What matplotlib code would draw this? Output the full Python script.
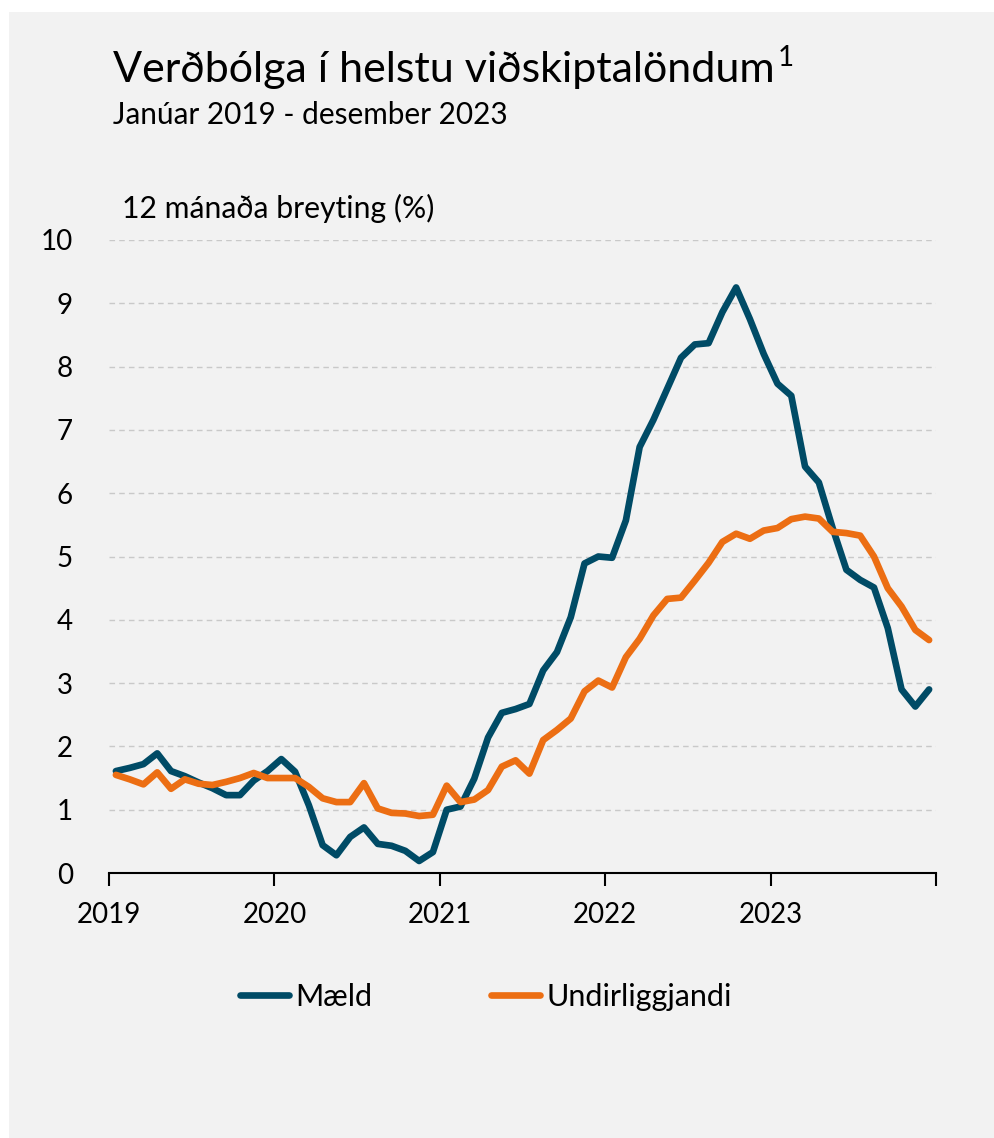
import matplotlib
matplotlib.use("Agg")
import matplotlib.pyplot as plt
from matplotlib.patches import Rectangle
from matplotlib.lines import Line2D
import numpy as np

plt.rcParams['font.family'] = ['Lato', 'DejaVu Sans']

# Monthly data Jan 2019 - Dec 2023
maeld = [1.61, 1.66, 1.72, 1.89, 1.61, 1.53, 1.43, 1.34, 1.23, 1.23, 1.46, 1.61,
         1.80, 1.60, 1.07, 0.44, 0.28, 0.57, 0.72, 0.46, 0.43, 0.35, 0.19, 0.33,
         1.00, 1.05, 1.49, 2.14, 2.53, 2.59, 2.67, 3.20, 3.49, 4.04, 4.89, 5.00,
         4.98, 5.57, 6.73, 7.16, 7.65, 8.14, 8.35, 8.37, 8.86, 9.25, 8.75, 8.20,
         7.73, 7.54, 6.42, 6.17, 5.45, 4.79, 4.63, 4.51, 3.87, 2.90, 2.63, 2.90]
undirliggjandi = [1.55, 1.48, 1.40, 1.59, 1.33, 1.48, 1.41, 1.39, 1.44, 1.50, 1.58, 1.50,
                  1.50, 1.50, 1.36, 1.18, 1.12, 1.12, 1.42, 1.02, 0.95, 0.94, 0.90, 0.92,
                  1.38, 1.12, 1.16, 1.31, 1.68, 1.78, 1.57, 2.10, 2.26, 2.44, 2.87, 3.04,
                  2.93, 3.41, 3.70, 4.07, 4.33, 4.35, 4.62, 4.90, 5.23, 5.36, 5.28, 5.41,
                  5.45, 5.59, 5.63, 5.60, 5.39, 5.37, 5.33, 5.00, 4.50, 4.21, 3.84, 3.68]
year_labels = ['2019', '2020', '2021', '2022', '2023']
yticks = list(range(0, 11))
series_names = ['Mæld', 'Undirliggjandi']

title = 'Verðbólga í helstu viðskiptalöndum'
subtitle = 'Janúar 2019 - desember 2023'
ylabel = '12 mánaða breyting (%)'

BLUE = '#004b66'
ORANGE = '#ec6e13'
BG = '#f2f2f2'

W, H = 995, 1138
fig = plt.figure(figsize=(W / 100, H / 100), dpi=100)
fig.patch.set_facecolor('white')
fig.patches.append(Rectangle((9 / W, 0), 1 - 9 / W, 1 - 12 / H, transform=fig.transFigure,
                             facecolor=BG, edgecolor='none', zorder=-5))

ax = fig.add_axes([109 / W, 1 - 873 / H, (936 - 109) / W, (873 - 240) / H])
ax.set_facecolor('none')

x = np.arange(len(maeld)) + 0.5
ax.plot(x, maeld, color=BLUE, lw=4.8, solid_joinstyle='round', solid_capstyle='round', zorder=3)
ax.plot(x, undirliggjandi, color=ORANGE, lw=4.8, solid_joinstyle='round', solid_capstyle='round', zorder=3)

ax.set_xlim(0, 60)
ax.set_ylim(0, 10)
ax.set_yticks(yticks)
ax.set_yticklabels([str(v) for v in yticks])
ax.grid(axis='y', color='#c9c9c9', linestyle=(0, (4, 3)), linewidth=1.0, zorder=1)
ax.set_xticks([0, 12, 24, 36, 48, 60])
ax.set_xticklabels(year_labels + [''])
for s in ['top', 'right', 'left']:
    ax.spines[s].set_visible(False)
ax.spines['bottom'].set_linewidth(1.5)
ax.spines['bottom'].set_color('black')
ax.spines['bottom'].set_zorder(4)
ax.tick_params(axis='y', length=0, pad=26, labelsize=20)
ax.tick_params(axis='x', length=9, width=1.5, direction='out', pad=12, labelsize=20)

fig.text(113 / W, 1 - 82 / H, title, fontsize=31, va='baseline', ha='left', color='black')
fig.text(113 / W, 1 - 124 / H, subtitle, fontsize=21.4, va='baseline', ha='left', color='black')
fig.text(122 / W, 1 - 218 / H, ylabel, fontsize=21.7, va='baseline', ha='left', color='black')

fig.canvas.draw()
r = fig.canvas.get_renderer()
t = fig.texts[0]
bb = t.get_window_extent(r)
fig.text(bb.x1 / W + 3 / W, 1 - 66 / H, '1', fontsize=20, va='baseline', ha='left')

handles = [Line2D([], [], color=BLUE, lw=4.8, solid_capstyle='round'),
           Line2D([], [], color=ORANGE, lw=4.8, solid_capstyle='round')]
fig.legend(handles, series_names, loc='center', bbox_to_anchor=(486 / W, 1 - 997 / H),
           ncol=2, frameon=False, fontsize=22, handlelength=1.6, handletextpad=0.2,
           columnspacing=3.9, borderpad=0, borderaxespad=0)

fig.savefig('out.png', dpi=100, facecolor=fig.get_facecolor())
